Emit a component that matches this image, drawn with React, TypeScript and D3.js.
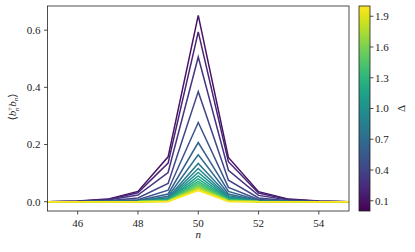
import { useEffect, useRef } from 'react';
import * as d3 from 'd3';

// site index n and detuning values
const sites = [45, 46, 47, 48, 49, 50, 51, 52, 53, 54, 55];
const deltas = [0.1, 0.2, 0.3, 0.4, 0.5, 0.6, 0.7, 0.8, 0.9, 1.0, 1.1, 1.2, 1.3, 1.4, 1.5, 1.6, 1.7, 1.8, 1.9, 2.0];

// occupation <b_n^dag b_n> per site, one entry per delta (same order as deltas)
const occN45 = [0, 0, 0, 0, 0, 0, 0, 0, 0, 0, 0, 0, 0, 0, 0, 0, 0, 0, 0, 0];
const occN46 = [0.002, 0.0015, 0.001, 0.0005, 0.0003, 0.0002, 0.0001, 0, 0, 0, 0, 0, 0, 0, 0, 0, 0, 0, 0, 0];
const occN47 = [0.009, 0.008, 0.006, 0.003, 0.0015, 0.001, 0.0006, 0.0004, 0.0003, 0.0002, 0.0001, 0, 0, 0, 0, 0, 0, 0, 0, 0];
const occN48 = [0.036, 0.031, 0.023, 0.013, 0.007, 0.004, 0.0025, 0.0018, 0.0013, 0.001, 0.0008, 0.0006, 0.0005, 0.0004, 0.0003, 0.0002, 0.0002, 0.0001, 0.0001, 0];
const occN49 = [0.157, 0.135, 0.102, 0.064, 0.04, 0.027, 0.019, 0.014, 0.011, 0.009, 0.007, 0.006, 0.005, 0.004, 0.003, 0.0025, 0.002, 0.0015, 0.001, 0.0005];
const occN50 = [0.652, 0.594, 0.506, 0.385, 0.277, 0.207, 0.164, 0.134, 0.116, 0.102, 0.09, 0.08, 0.071, 0.064, 0.058, 0.053, 0.049, 0.045, 0.042, 0.039];
const occN51 = [0.155, 0.14, 0.11, 0.075, 0.05, 0.036, 0.027, 0.021, 0.017, 0.014, 0.011, 0.009, 0.007, 0.006, 0.005, 0.004, 0.003, 0.002, 0.001, 0.0005];
const occN52 = [0.035, 0.03, 0.022, 0.013, 0.008, 0.005, 0.0035, 0.0025, 0.0018, 0.0013, 0.001, 0.0008, 0.0006, 0.0005, 0.0004, 0.0003, 0.0002, 0.0001, 0.0001, 0];
const occN53 = [0.009, 0.008, 0.006, 0.003, 0.0015, 0.001, 0.0006, 0.0004, 0.0003, 0.0002, 0.0001, 0, 0, 0, 0, 0, 0, 0, 0, 0];
const occN54 = [0.002, 0.0015, 0.001, 0.0005, 0.0003, 0.0002, 0.0001, 0, 0, 0, 0, 0, 0, 0, 0, 0, 0, 0, 0, 0];
const occN55 = [0, 0, 0, 0, 0, 0, 0, 0, 0, 0, 0, 0, 0, 0, 0, 0, 0, 0, 0, 0];

const xTicks = [46, 48, 50, 52, 54];
const yTicks = [0.0, 0.2, 0.4, 0.6];
const cbarTicks = [0.1, 0.4, 0.7, 1.0, 1.3, 1.6, 1.9];

const columns = [occN45, occN46, occN47, occN48, occN49, occN50, occN51, occN52, occN53, occN54, occN55];

const FONT = 'Liberation Serif, DejaVu Serif, serif';

export default function App() {
  const svgRef = useRef<SVGSVGElement>(null);

  useEffect(() => {
    // @ts-ignore
    const svg = d3.select<SVGSVGElement, unknown>(svgRef.current);
    svg.selectAll('*').remove();

    const left = 47.5, right = 349, top = 6, bottom = 211;
    const cbLeft = 359, cbRight = 370;

    const x = d3.scaleLinear().domain([45, 55]).range([left, right]);
    const y = d3.scaleLinear().domain([-0.0326, 0.6846]).range([bottom, top]);
    const c = d3.scaleLinear().domain([0, 2]).range([bottom, top]);
    const color = (d: number) => d3.interpolateViridis(d / 2);

    // clip lines to the axes box
    const defs = svg.append('defs');
    defs.append('clipPath').attr('id', 'plot-clip')
      .append('rect').attr('x', left).attr('y', top).attr('width', right - left).attr('height', bottom - top);

    const grad = defs.append('linearGradient').attr('id', 'viridis')
      .attr('x1', 0).attr('y1', 1).attr('x2', 0).attr('y2', 0);
    d3.range(0, 1.0001, 0.05).forEach(t => {
      grad.append('stop').attr('offset', t).attr('stop-color', d3.interpolateViridis(t));
    });

    const series = deltas.map((d, i) => ({
      delta: d,
      points: sites.map((n, j) => [n, columns[j][i]] as [number, number]),
    }));

    const line = d3.line<[number, number]>().x(p => x(p[0])).y(p => y(p[1]));

    svg.append('g').attr('clip-path', 'url(#plot-clip)')
      .selectAll('path')
      .data(series)
      .enter()
      .append('path')
      .attr('d', s => line(s.points))
      .attr('fill', 'none')
      .attr('stroke', s => color(s.delta))
      .attr('stroke-width', 1.5)
      .attr('stroke-linejoin', 'miter');

    // axes box
    svg.append('rect')
      .attr('x', left).attr('y', top).attr('width', right - left).attr('height', bottom - top)
      .attr('fill', 'none').attr('stroke', '#222').attr('stroke-width', 0.8);

    // x ticks
    const xg = svg.append('g');
    xTicks.forEach(t => {
      xg.append('line').attr('x1', x(t)).attr('x2', x(t)).attr('y1', bottom).attr('y2', bottom + 3.5)
        .attr('stroke', '#222').attr('stroke-width', 0.8);
      xg.append('text').text(t).attr('x', x(t)).attr('y', 226.5)
        .attr('text-anchor', 'middle').attr('font-size', 11);
    });

    // y ticks
    const yg = svg.append('g');
    yTicks.forEach(t => {
      yg.append('line').attr('x1', left - 3.5).attr('x2', left).attr('y1', y(t)).attr('y2', y(t))
        .attr('stroke', '#222').attr('stroke-width', 0.8);
      yg.append('text').text(t.toFixed(1)).attr('x', 40.5).attr('y', y(t)).attr('dy', '0.35em')
        .attr('text-anchor', 'end').attr('font-size', 11);
    });

    // x label
    svg.append('text').text('n').attr('x', x(50)).attr('y', 238)
      .attr('text-anchor', 'middle').attr('font-size', 11).attr('font-style', 'italic');

    // y label ⟨b_n^† b_n⟩
    const yl = svg.append('text')
      .attr('transform', 'translate(16,107) rotate(-90)')
      .attr('text-anchor', 'middle').attr('font-size', 11);
    yl.append('tspan').text('⟨');
    yl.append('tspan').text('b').attr('font-style', 'italic');
    yl.append('tspan').text('†').attr('font-size', 7).attr('dy', -4);
    yl.append('tspan').text('n').attr('font-size', 7).attr('font-style', 'italic').attr('dx', -4).attr('dy', 7);
    yl.append('tspan').text('b').attr('font-style', 'italic').attr('dx', 1).attr('dy', -3);
    yl.append('tspan').text('n').attr('font-size', 7).attr('font-style', 'italic').attr('dy', 2);
    yl.append('tspan').text('⟩').attr('dy', -2);

    // colorbar
    svg.append('rect')
      .attr('x', cbLeft).attr('y', top).attr('width', cbRight - cbLeft).attr('height', bottom - top)
      .attr('fill', 'url(#viridis)').attr('stroke', '#222').attr('stroke-width', 0.8);
    cbarTicks.forEach(t => {
      svg.append('line').attr('x1', cbRight).attr('x2', cbRight + 3.5).attr('y1', c(t)).attr('y2', c(t))
        .attr('stroke', '#222').attr('stroke-width', 0.8);
      svg.append('text').text(t.toFixed(1)).attr('x', cbRight + 5).attr('y', c(t)).attr('dy', '0.35em')
        .attr('font-size', 11);
    });
    svg.append('text').text('Δ')
      .attr('transform', `translate(405,${(top + bottom) / 2}) rotate(-90)`)
      .attr('text-anchor', 'middle').attr('font-size', 11);
  }, []);

  return (
    <svg
      ref={svgRef}
      width={415}
      height={252}
      fontFamily={FONT}
      fill="#222"
      style={{ position: 'absolute', top: 0, left: 0, background: '#fff' }}
    />
  );
}
